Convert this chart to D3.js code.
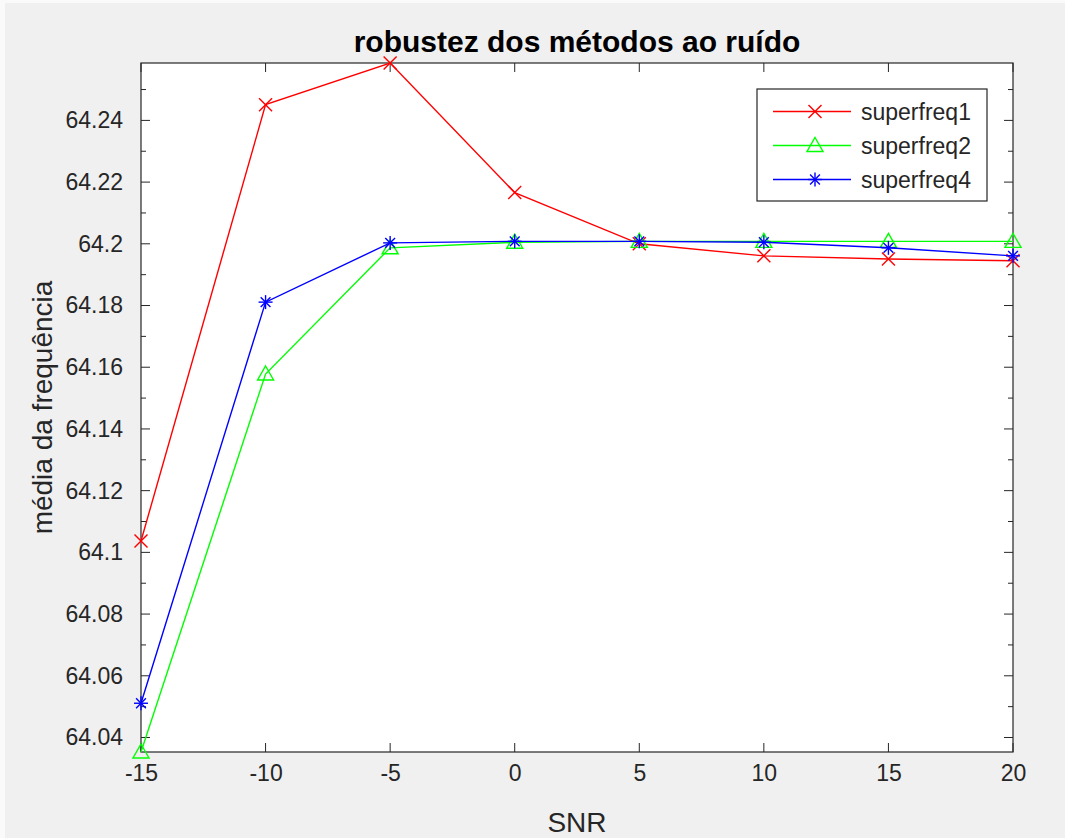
<!DOCTYPE html>
<html>
<head>
<meta charset="utf-8">
<script src="https://cdn.jsdelivr.net/npm/d3@7"></script>
<style>
  html, body { margin: 0; padding: 0; background: #f0f0f0; }
  svg { display: block; font-family: "Liberation Sans", Arial, Helvetica, sans-serif; }
</style>
</head>
<body>
<div id="chart"></div>
<script>
// SNR values (dB) on the x axis
const snr = [-15, -10, -5, 0, 5, 10, 15, 20];

// mean frequency estimated by each method
const superfreq1 = [64.1037, 64.2451, 64.2586, 64.2166, 64.2000, 64.1961, 64.1951, 64.1945];
const superfreq2 = [64.0353, 64.1578, 64.1987, 64.2005, 64.2008, 64.2008, 64.2008, 64.2008];
const superfreq4 = [64.0511, 64.1811, 64.2003, 64.2008, 64.2008, 64.2005, 64.1987, 64.1961];

const seriesNames = ['superfreq1', 'superfreq2', 'superfreq4'];
const xTicks = [-15, -10, -5, 0, 5, 10, 15, 20];
const yTicks = [64.04, 64.06, 64.08, 64.1, 64.12, 64.14, 64.16, 64.18, 64.2, 64.22, 64.24];

const W = 1065, H = 838;
const margin = { left: 141, top: 63, right: 52, bottom: 86 };
const iw = W - margin.left - margin.right;
const ih = H - margin.top - margin.bottom;

const series = [
  { name: seriesNames[0], values: superfreq1, color: '#ff0000', marker: 'x' },
  { name: seriesNames[1], values: superfreq2, color: '#00ff00', marker: 'triangle' },
  { name: seriesNames[2], values: superfreq4, color: '#0000ff', marker: 'star' }
];

const svg = d3.select('#chart').append('svg')
  .attr('width', W)
  .attr('height', H);

// figure background with a thin light frame
svg.append('rect').attr('width', W).attr('height', H).attr('fill', '#f0f0f0');
svg.append('rect').attr('x', 0).attr('y', 0).attr('width', W).attr('height', 3).attr('fill', '#fafafa');
svg.append('rect').attr('x', 0).attr('y', 0).attr('width', 5).attr('height', H).attr('fill', '#fafafa');

// axis limits are tight to the data
const allVals = superfreq1.concat(superfreq2, superfreq4);
const x = d3.scaleLinear().domain(d3.extent(snr)).range([0, iw]);
const y = d3.scaleLinear().domain(d3.extent(allVals)).range([ih, 0]);

const g = svg.append('g').attr('transform', `translate(${margin.left},${margin.top})`);

g.append('rect').attr('width', iw).attr('height', ih).attr('fill', '#ffffff');

const axisColor = '#262626';
const majorLen = 9, minorLen = 5;

// y minor ticks every 0.01
const yMinor = d3.range(64.04, 64.26, 0.01).map(v => +v.toFixed(2))
  .filter(v => v >= y.domain()[0] && v <= y.domain()[1]);
const yMajorSet = new Set(yTicks.map(v => v.toFixed(2)));

const tickG = g.append('g').attr('stroke', axisColor).attr('stroke-width', 1);
yMinor.forEach(v => {
  const len = yMajorSet.has(v.toFixed(2)) ? majorLen : minorLen;
  tickG.append('line').attr('x1', 0).attr('x2', len).attr('y1', y(v)).attr('y2', y(v));
  tickG.append('line').attr('x1', iw).attr('x2', iw - len).attr('y1', y(v)).attr('y2', y(v));
});
xTicks.forEach(v => {
  tickG.append('line').attr('x1', x(v)).attr('x2', x(v)).attr('y1', ih).attr('y2', ih - majorLen);
  tickG.append('line').attr('x1', x(v)).attr('x2', x(v)).attr('y1', 0).attr('y2', majorLen);
});

// tick labels
const yAxis = d3.axisLeft(y).tickValues(yTicks).tickSize(0).tickPadding(18)
  .tickFormat(d => String(+d.toFixed(2)));
const yg = g.append('g').call(yAxis);
yg.select('.domain').remove();
yg.selectAll('text').attr('fill', axisColor).style('font-size', '23px');

const xAxis = d3.axisBottom(x).tickValues(xTicks).tickSize(0).tickPadding(13)
  .tickFormat(d => String(d));
const xg = g.append('g').attr('transform', `translate(0,${ih})`).call(xAxis);
xg.select('.domain').remove();
xg.selectAll('text').attr('fill', axisColor).style('font-size', '23px');

// box
g.append('rect').attr('width', iw).attr('height', ih)
  .attr('fill', 'none').attr('stroke', axisColor).attr('stroke-width', 1.2);

// markers
function drawMarker(sel, type, color, cx, cy) {
  const m = sel.append('g').attr('transform', `translate(${cx},${cy})`)
    .attr('stroke', color).attr('fill', 'none').attr('stroke-width', 1.4);
  if (type === 'x') {
    const s = 6.5;
    m.append('line').attr('x1', -s).attr('y1', -s).attr('x2', s).attr('y2', s);
    m.append('line').attr('x1', -s).attr('y1', s).attr('x2', s).attr('y2', -s);
  } else if (type === 'triangle') {
    const s = 8;
    m.append('path').attr('d', `M0,${-s} L${s},${s * 0.75} L${-s},${s * 0.75} Z`);
  } else {
    const s = 7;
    m.append('line').attr('x1', 0).attr('y1', -s).attr('x2', 0).attr('y2', s);
    m.append('line').attr('x1', -s).attr('y1', 0).attr('x2', s).attr('y2', 0);
    m.append('line').attr('x1', -s * 0.7).attr('y1', -s * 0.7).attr('x2', s * 0.7).attr('y2', s * 0.7);
    m.append('line').attr('x1', -s * 0.7).attr('y1', s * 0.7).attr('x2', s * 0.7).attr('y2', -s * 0.7);
  }
}

const line = d3.line().x(d => x(d[0])).y(d => y(d[1]));

series.forEach(s => {
  const pts = snr.map((v, i) => [v, s.values[i]]);
  g.append('path').datum(pts)
    .attr('d', line)
    .attr('fill', 'none')
    .attr('stroke', s.color)
    .attr('stroke-width', 1.4);
  pts.forEach(p => drawMarker(g, s.marker, s.color, x(p[0]), y(p[1])));
});

// legend
const leg = svg.append('g').attr('transform', 'translate(757,89)');
leg.append('rect').attr('width', 230).attr('height', 112)
  .attr('fill', '#ffffff').attr('stroke', axisColor).attr('stroke-width', 1.2);
series.forEach((s, i) => {
  const ry = 22.5 + i * 34;
  leg.append('line').attr('x1', 16).attr('x2', 94).attr('y1', ry).attr('y2', ry)
    .attr('stroke', s.color).attr('stroke-width', 1.4);
  drawMarker(leg, s.marker, s.color, 58, ry);
  leg.append('text').attr('x', 104).attr('y', ry).attr('dy', '0.35em')
    .attr('fill', axisColor).style('font-size', '23px').text(s.name);
});

// title and axis labels
svg.append('text').attr('x', margin.left + iw / 2).attr('y', 52)
  .attr('text-anchor', 'middle').attr('fill', '#000')
  .style('font-size', '30px').style('font-weight', 'bold')
  .text('robustez dos métodos ao ruído');

svg.append('text').attr('x', margin.left + iw / 2).attr('y', 832)
  .attr('text-anchor', 'middle').attr('fill', axisColor)
  .style('font-size', '28px').text('SNR');

svg.append('text')
  .attr('transform', `translate(52,${margin.top + ih / 2}) rotate(-90)`)
  .attr('text-anchor', 'middle').attr('fill', axisColor)
  .style('font-size', '28px').text('média da frequência');
</script>
</body>
</html>
